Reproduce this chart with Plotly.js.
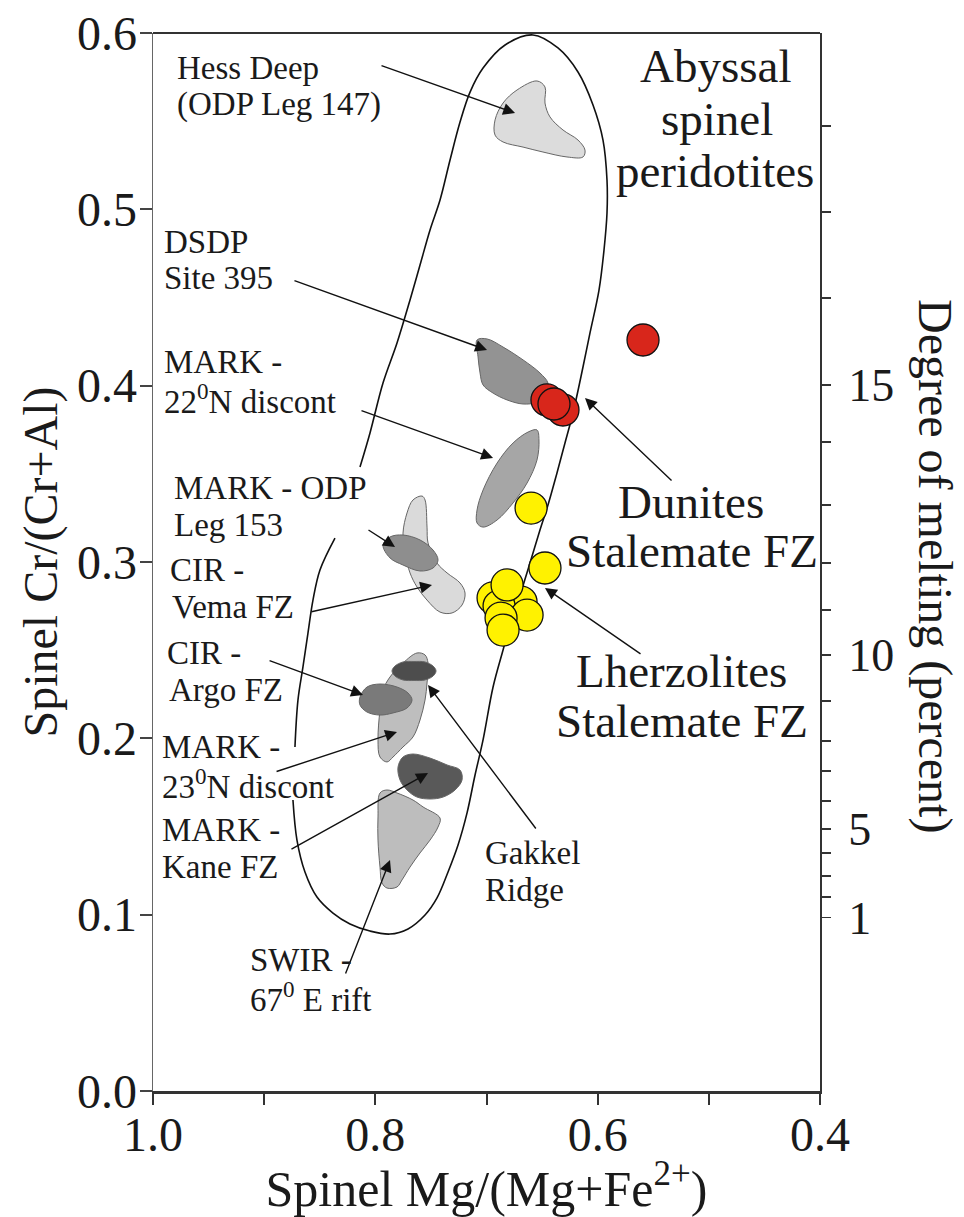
<!DOCTYPE html>
<html><head><meta charset="utf-8">
<script src="https://cdn.plot.ly/plotly-3.0.1.min.js"></script>
<style>html,body{margin:0;padding:0;background:#fff;}#chart{width:964px;height:1217px;}</style>
</head><body><div id="chart"></div>
<script>
// ---- Data: spinel Mg# (x) vs Cr# (y) ----
// Abyssal spinel peridotite envelope (null = gaps where the outline is interrupted by labels)
const envelopeX = [0.8138,0.8048,0.7931,0.7805,0.7688,0.7598,0.7508,0.7418,0.7328,0.7238,0.7148,0.7031,0.6833,
  0.6582,0.6357,0.6177,0.6042,0.5952,0.5916,0.5916,0.5943,0.5988,0.6069,0.6132,0.6222,0.6294,0.6366,0.6447,0.6519,
  0.6609,0.6698,0.6788,0.6851,0.6941,0.7031,0.7103,0.7175,0.7256,0.7346,0.7445,0.7553,0.7706,0.7868,0.8048,0.8228,
  0.8381,0.8525,0.8633,0.8705,0.8741,null,0.8723,0.8696,0.8651,0.8606,0.8561,0.8498,0.8363];
const envelopeY = [0.3539,0.3732,0.4015,0.4242,0.4486,0.4684,0.4883,0.5053,0.5280,0.5495,0.5665,0.5801,0.5932,
  0.5989,0.5915,0.5779,0.5592,0.5393,0.5166,0.4979,0.4769,0.4542,0.4299,0.4106,0.3845,0.3675,0.3505,0.3323,0.3181,
  0.2994,0.2813,0.2643,0.2501,0.2291,0.1991,0.1792,0.1577,0.1395,0.1242,0.1095,0.0998,0.0919,0.0890,0.0907,0.0947,
  0.1009,0.1100,0.1242,0.1423,0.1650,null,0.1951,0.2217,0.2405,0.2597,0.2784,0.2955,0.3136];

const hessDeepX = [0.6923,0.6851,0.6725,0.6546,0.6474,0.6474,0.6429,0.6312,0.6177,0.6114,0.6132,0.6276,0.6492,0.6671,0.6851,0.6923];
const hessDeepY = [0.5507,0.5603,0.5677,0.5728,0.5694,0.5603,0.5524,0.5450,0.5393,0.5336,0.5297,0.5297,0.5325,0.5353,0.5382,0.5421];
const dsdpX = [0.7085,0.6995,0.6851,0.6671,0.6519,0.6447,0.6456,0.6546,0.6671,0.6815,0.6941,0.7031,0.7058,0.7076];
const dsdpY = [0.4259,0.4265,0.4219,0.4146,0.4072,0.4015,0.3958,0.3907,0.3896,0.3919,0.3958,0.4004,0.4072,0.4163];
const mark22X = [0.6546,0.6528,0.6546,0.6635,0.6761,0.6905,0.7031,0.7085,0.7085,0.7031,0.6905,0.6761,0.6626];
const mark22Y = [0.3749,0.3692,0.3578,0.3448,0.3335,0.3238,0.3198,0.3221,0.3295,0.3408,0.3561,0.3675,0.3737];
const vemaX = [0.7661,0.7580,0.7553,0.7535,0.7526,0.7445,0.7355,0.7238,0.7193,0.7220,0.7310,0.7418,0.7535,0.7625,0.7688,0.7733,0.7751,0.7715];
const vemaY = [0.3352,0.3374,0.3352,0.3198,0.3108,0.2994,0.2938,0.2881,0.2824,0.2756,0.2711,0.2716,0.2784,0.2858,0.2938,0.3051,0.3164,0.3278];
const odp153X = [0.7931,0.7868,0.7751,0.7598,0.7481,0.7436,0.7481,0.7598,0.7751,0.7868];
const odp153Y = [0.3096,0.3142,0.3153,0.3125,0.3068,0.3011,0.2966,0.2949,0.2983,0.3023];
const mark23X = [0.7625,0.7553,0.7526,0.7535,0.7553,0.7598,0.7661,0.7751,0.7841,0.7895,0.7958,0.7976,0.7958,0.7931,0.7868,0.7751];
const mark23Y = [0.2484,0.2473,0.2427,0.2314,0.2217,0.2104,0.2008,0.1951,0.1894,0.1866,0.1894,0.1991,0.2161,0.2274,0.2348,0.2427];
const argoX = [0.8138,0.8075,0.7958,0.7805,0.7706,0.7670,0.7715,0.7841,0.7958,0.8075,0.8138];
const argoY = [0.2234,0.2291,0.2308,0.2291,0.2257,0.2217,0.2172,0.2144,0.2132,0.2149,0.2189];
const gakkelX = [0.7454,0.7481,0.7553,0.7652,0.7751,0.7823,0.7850,0.7823,0.7751,0.7652,0.7553,0.7481];
const gakkelY = [0.2382,0.2410,0.2433,0.2436,0.2433,0.2410,0.2382,0.2353,0.2331,0.2328,0.2331,0.2353];
const kaneX = [0.7751,0.7661,0.7508,0.7355,0.7238,0.7220,0.7283,0.7391,0.7508,0.7625,0.7715,0.7778,0.7796];
const kaneY = [0.1894,0.1911,0.1888,0.1849,0.1820,0.1764,0.1707,0.1667,0.1656,0.1667,0.1707,0.1764,0.1837];
const swirX = [0.7958,0.7895,0.7805,0.7661,0.7571,0.7418,0.7436,0.7508,0.7598,0.7688,0.7760,0.7805,0.7895,0.7940,0.7958,0.7976,0.7976];
const swirY = [0.1690,0.1707,0.1690,0.1650,0.1611,0.1548,0.1497,0.1423,0.1350,0.1270,0.1197,0.1157,0.1151,0.1180,0.1270,0.1423,0.1554];

// Stalemate FZ samples
const duniteX = [0.5592,0.6456,0.6312,0.6393];
const duniteY = [0.4259,0.3919,0.3862,0.3896];
const lherzX = [0.6599,0.6474,0.6941,0.6689,0.6887,0.6635,0.6869,0.6851,0.6815];
const lherzY = [0.3306,0.2966,0.2796,0.2773,0.2750,0.2699,0.2682,0.2614,0.2870];

// Degree of melting scale (right axis): tick positions on the Cr# scale
const meltDegrees = [1,2,3,4,5,6,7,8,9,10,11,12,13,14,15,16,17,18];
const meltTickCr = [0.0984,0.1100,0.1220,0.1350,0.1486,0.1645,0.1815,0.1985,0.2212,0.2473,0.2728,0.2995,0.3324,0.3681,0.4005,0.4498,0.4986,0.5474];
const meltLabeled = [1,5,10,15];

// Axis ticks
const xMajor = [1.0,0.8,0.6,0.4];
const xMajorText = ['1.0','0.8','0.6','0.4'];
const xMinor = [0.9,0.7,0.5];
const yTicks = [0.0,0.1,0.2,0.3,0.4,0.5,0.6];

// Arrows: head (at field) and tail (at label)
const arrowHeadX = [0.6743,0.6995,0.6941,0.7823,0.7490,0.8111,0.7805,0.7526,0.7526,0.7868,0.6114,0.6474];
const arrowHeadY = [0.5546,0.4202,0.3590,0.3085,0.2870,0.2246,0.2036,0.1803,0.2302,0.1310,0.3930,0.2853];
const arrowTailX = [0.7958,0.8741,0.8138,0.8075,0.8588,0.8965,0.8902,0.8768,0.6546,0.8273,0.5322,0.5601];
const arrowTailY = [0.5818,0.4599,0.3862,0.3187,0.2716,0.2444,0.1809,0.1367,0.1480,0.0658,0.3454,0.2473];

// ---- Build ----
const FONT = 'Liberation Serif, Times New Roman, serif';
const INK = '#1a1a1a';
const fields = [
  {name:'Hess Deep (ODP Leg 147)', x:hessDeepX, y:hessDeepY, c:'#dcdcdc'},
  {name:'DSDP Site 395', x:dsdpX, y:dsdpY, c:'#939393'},
  {name:'MARK - 22°N discont', x:mark22X, y:mark22Y, c:'#a6a6a6'},
  {name:'CIR - Vema FZ', x:vemaX, y:vemaY, c:'#dadada'},
  {name:'MARK - ODP Leg 153', x:odp153X, y:odp153Y, c:'#8e8e8e'},
  {name:'MARK - 23°N discont', x:mark23X, y:mark23Y, c:'#bebebe'},
  {name:'CIR - Argo FZ', x:argoX, y:argoY, c:'#7a7a7a'},
  {name:'Gakkel Ridge', x:gakkelX, y:gakkelY, c:'#4d4d4d'},
  {name:'MARK - Kane FZ', x:kaneX, y:kaneY, c:'#595959'},
  {name:'SWIR - 67°E rift', x:swirX, y:swirY, c:'#bdbdbd'}
];
const traces = [];
fields.forEach(f => {
  traces.push({type:'scatter', mode:'lines', name:f.name,
    x:f.x.concat([f.x[0]]), y:f.y.concat([f.y[0]]),
    fill:'toself', fillcolor:f.c,
    line:{color:'#666', width:1, shape:'spline', smoothing:1},
    hoverinfo:'name', showlegend:false});
});
traces.push({type:'scatter', mode:'lines', name:'Abyssal spinel peridotites',
  x:envelopeX, y:envelopeY, connectgaps:false,
  line:{color:'#111', width:1.6, shape:'spline', smoothing:1}, hoverinfo:'name', showlegend:false});
traces.push({type:'scatter', mode:'markers', name:'Dunites Stalemate FZ',
  x:duniteX, y:duniteY, marker:{size:32, color:'#d8261b', line:{color:'#111', width:1.3}}, showlegend:false});
traces.push({type:'scatter', mode:'markers', name:'Lherzolites Stalemate FZ',
  x:lherzX, y:lherzY, yaxis:'y2', marker:{size:32, color:'#fff200', line:{color:'#111', width:1.3}}, showlegend:false});

const annotations = [];
for (let i = 0; i < arrowHeadX.length; i++) {
  annotations.push({x:arrowHeadX[i], y:arrowHeadY[i], ax:arrowTailX[i], ay:arrowTailY[i],
    xref:'x', yref:'y', axref:'x', ayref:'y', text:'', showarrow:true,
    arrowhead:2, arrowsize:1.7, arrowwidth:1.4, arrowcolor:'#111', standoff:0});
}
const smallLabels = [
  ['Hess Deep',0.9802,0.5800],['(ODP Leg 147)',0.9802,0.5592],
  ['DSDP',0.9922,0.4816],['Site 395',0.9922,0.4611],
  ['MARK -',0.9922,0.4136],['22<sup>0</sup>N discont',0.9922,0.3923],
  ['MARK - ODP',0.9832,0.3418],['Leg 153',0.9832,0.3210],
  ['CIR -',0.9862,0.2955],['Vema FZ',0.9847,0.2747],
  ['CIR -',0.9892,0.2482],['Argo FZ',0.9877,0.2274],
  ['MARK -',0.9937,0.1953],['23<sup>0</sup>N discont',0.9937,0.1741],
  ['MARK -',0.9937,0.1480],['Kane FZ',0.9937,0.1272],
  ['Gakkel',0.7029,0.1348],['Ridge',0.7029,0.1140],
  ['SWIR -',0.9143,0.0743],['67<sup>0</sup> E rift',0.9143,0.0535]
];
smallLabels.forEach(l => annotations.push({text:l[0], x:l[1], y:l[2], xref:'x', yref:'y',
  xanchor:'left', yanchor:'middle', showarrow:false, font:{family:FONT, size:33, color:INK}}));
const bigLabels = [
  ['Abyssal',0.4944,0.5812],['spinel',0.4931,0.5510],['peridotites',0.4944,0.5217],
  ['Dunites',0.5160,0.3338],['Stalemate FZ',0.5151,0.3060],
  ['Lherzolites',0.5244,0.2381],['Stalemate FZ',0.5237,0.2098]
];
bigLabels.forEach(l => annotations.push({text:l[0], x:l[1], y:l[2], xref:'x', yref:'y',
  xanchor:'center', yanchor:'middle', showarrow:false, font:{family:FONT, size:47, color:INK}}));
annotations.push({text:'Degree of melting (percent)', xref:'paper', yref:'paper', x:1.1724, y:0.4962,
  xanchor:'center', yanchor:'middle', textangle:90, showarrow:false, font:{family:FONT, size:48, color:INK}});

const meltMajorVals = meltTickCr.filter((v, i) => meltLabeled.includes(meltDegrees[i]));
const meltMajorText = meltDegrees.filter(d => meltLabeled.includes(d)).map(String);
const meltMinorVals = meltTickCr.filter((v, i) => !meltLabeled.includes(meltDegrees[i]));

const layout = {
  width:964, height:1217,
  margin:{l:153, r:144, t:33, b:126},
  paper_bgcolor:'#fff', plot_bgcolor:'#fff',
  font:{family:FONT, color:INK},
  showlegend:false,
  xaxis:{range:[1.0,0.4], tickmode:'array', tickvals:xMajor, ticktext:xMajorText,
    ticks:'outside', ticklen:11, tickwidth:2, tickcolor:'#333', ticklabelstandoff:-12,
    minor:{tickmode:'array', tickvals:xMinor, ticks:'outside', ticklen:11, tickwidth:2, tickcolor:'#333', showgrid:false},
    showline:true, linecolor:'#333', linewidth:3, showgrid:false, zeroline:false,
    tickfont:{family:FONT, size:48, color:INK},
    title:{text:'Spinel Mg/(Mg+Fe<sup>2+</sup>)', font:{family:FONT, size:50, color:INK}, standoff:14}},
  yaxis:{range:[0,0.6], tickmode:'array', tickvals:yTicks, tickformat:'.1f',
    ticks:'outside', ticklen:12, tickwidth:2, tickcolor:'#444', ticklabelstandoff:-7,
    showline:true, linecolor:'#666', linewidth:1.5, showgrid:false, zeroline:false,
    tickfont:{family:FONT, size:48, color:INK},
    title:{text:'Spinel Cr/(Cr+Al)', font:{family:FONT, size:48, color:INK}, standoff:4}},
  yaxis2:{range:[0,0.6], overlaying:'y', side:'right', anchor:'x', tickmode:'array',
    tickvals:meltMajorVals, ticktext:meltMajorText,
    ticks:'outside', ticklen:9, tickwidth:1.5, tickcolor:'#333', ticklabelstandoff:8,
    minor:{tickmode:'array', tickvals:meltMinorVals, ticks:'outside', ticklen:9, tickwidth:1.5, tickcolor:'#333', showgrid:false},
    showline:true, linecolor:'#333', linewidth:2, showgrid:false, zeroline:false,
    tickfont:{family:FONT, size:46, color:INK}},
  shapes:[{type:'line', xref:'paper', yref:'paper', x0:0, x1:1, y0:1, y1:1, line:{color:'#333', width:2}}],
  annotations:annotations
};
Plotly.newPlot('chart', traces, layout, {displayModeBar:false, staticPlot:true});
</script></body></html>
